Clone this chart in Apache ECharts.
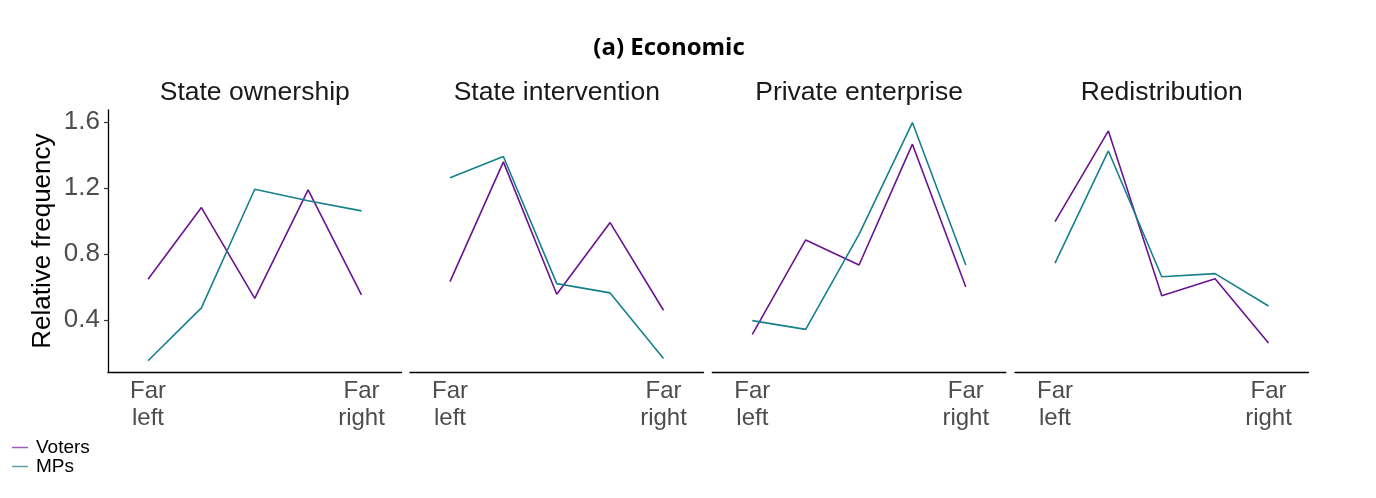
<!DOCTYPE html>
<html>
<head>
<meta charset="utf-8">
<script src="https://cdn.jsdelivr.net/npm/echarts@6/dist/echarts.min.js"></script>
<style>
  html, body { margin: 0; padding: 0; background: #fff; }
  #chart { width: 1376px; height: 498px; }
</style>
</head>
<body>
<div id="chart"></div>
<script>
// ---- data ----
const positions = [1, 2, 3, 4, 5];            // Far left ... Far right
const xTickLabels = { 1: 'Far\nleft', 5: 'Far\nright' };
const yTicks = [0.4, 0.8, 1.2, 1.6];
const panels = ['State ownership', 'State intervention', 'Private enterprise', 'Redistribution'];

const votersStateOwnership   = [0.647, 1.081, 0.531, 1.188, 0.552];
const mpsStateOwnership      = [0.153, 0.473, 1.192, 1.122, 1.061];
const votersStateIntervention = [0.632, 1.358, 0.556, 0.990, 0.459];
const mpsStateIntervention    = [1.261, 1.390, 0.620, 0.564, 0.166];
const votersPrivateEnterprise = [0.313, 0.885, 0.733, 1.465, 0.600];
const mpsPrivateEnterprise    = [0.396, 0.343, 0.919, 1.596, 0.733];
const votersRedistribution    = [0.996, 1.545, 0.547, 0.650, 0.261];
const mpsRedistribution       = [0.744, 1.424, 0.662, 0.681, 0.485];

const voters = [votersStateOwnership, votersStateIntervention, votersPrivateEnterprise, votersRedistribution];
const mps = [mpsStateOwnership, mpsStateIntervention, mpsPrivateEnterprise, mpsRedistribution];

// ---- layout ----
const VOTER_COLOR = '#6a1491';
const MP_COLOR = '#16808c';
const gridLefts = [108, 410, 712.3, 1015];
const gridWidth = 293.5;
const gridTop = 110;
const gridHeight = 262.3;
const yMin = 0.083, yMax = 1.672;

const chart = echarts.init(document.getElementById('chart'));

const grids = [], xAxes = [], yAxes = [], series = [], titles = [];

titles.push({
  text: '(a) Economic',
  left: 669, top: 36, textAlign: 'center', padding: 0,
  textStyle: { fontFamily: 'Open Sans', fontWeight: 700, fontSize: 24, color: '#000' }
});

panels.forEach((name, i) => {
  grids.push({ left: gridLefts[i], top: gridTop, width: gridWidth, height: gridHeight });
  titles.push({
    text: name,
    left: gridLefts[i] + gridWidth / 2, top: 79, textAlign: 'center', padding: 0,
    textStyle: { fontFamily: 'Liberation Sans', fontWeight: 400, fontSize: 26.5, color: '#1a1a1a' }
  });
  xAxes.push({
    type: 'value', gridIndex: i, min: 0.25, max: 5.75,
    axisLine: { show: true, onZero: false, lineStyle: { color: '#000', width: 1.3 } },
    axisTick: { show: false },
    splitLine: { show: false },
    axisLabel: {
      customValues: [1, 5],
      formatter: v => xTickLabels[v] || '',
      fontFamily: 'Liberation Sans', fontSize: 24, lineHeight: 27.5,
      color: '#4d4d4d', margin: 5
    }
  });
  yAxes.push({
    type: 'value', gridIndex: i, min: yMin, max: yMax,
    show: i === 0,
    name: i === 0 ? 'Relative frequency' : '',
    nameLocation: 'middle', nameGap: 52, nameRotate: 90,
    nameTextStyle: { fontFamily: 'Liberation Sans', fontSize: 26, color: '#000' },
    axisLine: { show: true, lineStyle: { color: '#000', width: 1.3 } },
    axisTick: { show: true, customValues: yTicks, length: 4, lineStyle: { color: '#333', width: 1.2 } },
    splitLine: { show: false },
    axisLabel: {
      customValues: yTicks,
      formatter: v => v.toFixed(1),
      fontFamily: 'Liberation Sans', fontSize: 26, color: '#4d4d4d', margin: 8
    }
  });
  series.push({
    name: 'Voters', type: 'line', xAxisIndex: i, yAxisIndex: i,
    data: positions.map((p, k) => [p, voters[i][k]]),
    symbol: 'none', lineStyle: { color: VOTER_COLOR, width: 1.6 }, itemStyle: { color: VOTER_COLOR },
    animation: false
  });
  series.push({
    name: 'MPs', type: 'line', xAxisIndex: i, yAxisIndex: i,
    data: positions.map((p, k) => [p, mps[i][k]]),
    symbol: 'none', lineStyle: { color: MP_COLOR, width: 1.6 }, itemStyle: { color: MP_COLOR },
    animation: false
  });
});

chart.setOption({
  backgroundColor: '#fff',
  animation: false,
  title: titles,
  grid: grids,
  xAxis: xAxes,
  yAxis: yAxes,
  series: series,
  legend: {
    data: [
      { name: 'Voters', icon: 'rect', itemStyle: { color: '#9a5cb8' } },
      { name: 'MPs', icon: 'rect', itemStyle: { color: '#5aa3ab' } }
    ],
    orient: 'vertical', left: 12, top: 438, padding: 0,
    itemWidth: 16, itemHeight: 1.5, itemGap: 0,
    textStyle: { fontFamily: 'Liberation Sans', fontSize: 19, lineHeight: 18, color: '#000', padding: [0, 0, 0, 3] }
  }
});
</script>
</body>
</html>
